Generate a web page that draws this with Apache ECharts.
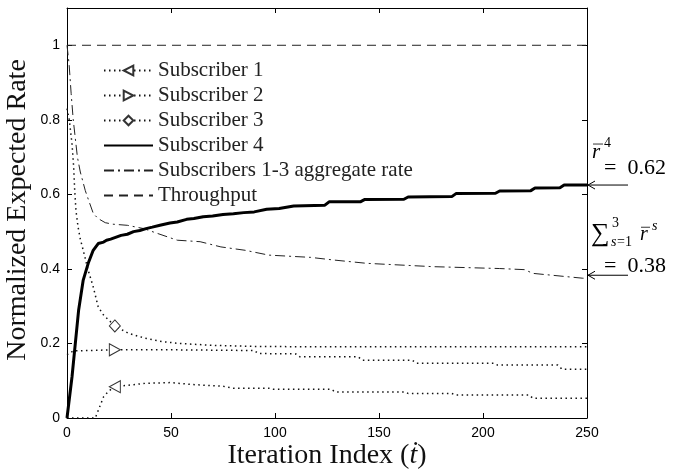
<!DOCTYPE html>
<html>
<head>
<meta charset="utf-8">
<script src="https://cdn.jsdelivr.net/npm/echarts@6/dist/echarts.min.js"></script>
<style>html,body{margin:0;padding:0;background:#fff}#c{width:674px;height:472px}</style>
</head>
<body>
<div id="c"></div>
<script>
// ---- data ----
const xTicks = [0, 50, 100, 150, 200, 250];
const yTicks = [0, 0.2, 0.4, 0.6, 0.8, 1];
const seriesNames = ['Subscriber 1', 'Subscriber 2', 'Subscriber 3', 'Subscriber 4',
  'Subscribers 1-3 aggregate rate', 'Throughput'];
const markerT = 23;
const sub1 = [[0,0],[13.6,0],[15,0.02],[17.6,0.057],[20,0.072],[23,0.084],[29.6,0.088],[37.6,0.093],[50,0.095],[60,0.09],[75,0.085],[80,0.08],[97,0.08],[99,0.077],[127,0.077],[129,0.07],[162,0.07],[164,0.066],[185,0.066],[187,0.062],[222,0.062],[224,0.053],[250,0.053]];
const sub2 = [[0,0.17],[3,0.18],[23,0.183],[50,0.183],[90,0.181],[92,0.173],[110,0.172],[112,0.164],[140,0.164],[142,0.155],[166,0.155],[168,0.147],[205,0.147],[207,0.142],[236,0.142],[238,0.131],[250,0.131]];
const sub3 = [[0,0.83],[1.1,0.80],[2.4,0.736],[3.2,0.674],[3.7,0.611],[4.3,0.557],[5.3,0.513],[6.4,0.48],[7.8,0.45],[10,0.40],[12.6,0.352],[15,0.298],[17.6,0.276],[23,0.247],[29.6,0.227],[37.6,0.214],[45.7,0.205],[54,0.2],[70,0.195],[90,0.192],[120,0.191],[250,0.191]];
const sub4 = [[0,0],[2.4,0.11],[4,0.2],[5.6,0.29],[7.8,0.37],[10.2,0.415],[12.6,0.45],[15,0.468],[17.6,0.472],[19,0.477],[21,0.48],[24,0.486],[26,0.49],[29,0.493],[32,0.5],[35,0.503],[38,0.508],[41,0.512],[44.7,0.517],[49.5,0.523],[53,0.526],[57.5,0.533],[61,0.535],[65.5,0.54],[70,0.542],[75,0.546],[80,0.548],[85,0.551],[90,0.553],[96,0.56],[102,0.562],[109,0.569],[124,0.571],[126,0.58],[141,0.58],[143,0.586],[162,0.587],[164,0.593],[185,0.594],[187,0.602],[206,0.603],[208,0.609],[223,0.61],[225,0.617],[237,0.618],[239,0.625],[250,0.625]];
const aggregate = [[0,1],[1,0.95],[2,0.87],[3,0.80],[4,0.75],[5,0.70],[6.4,0.66],[8.8,0.61],[10.4,0.584],[12.7,0.548],[15,0.535],[18.4,0.524],[22,0.52],[29,0.517],[37,0.508],[43.6,0.495],[53,0.477],[64,0.473],[74,0.459],[85.6,0.45],[97,0.437],[117,0.431],[128,0.424],[144,0.415],[176,0.406],[208,0.401],[220,0.398],[224,0.388],[248,0.375],[250,0.375]];
const throughput = [[0,1],[250,1]];
const finalSub4 = 0.625, finalAgg = 0.383;
const labelSub4 = '=  0.62', labelAgg = '=  0.38';

const serif = "'Liberation Serif','DejaVu Serif',serif";
const sans = "'Liberation Sans',Arial,sans-serif";

function withMarker(arr) {
  return arr.map(p => p[0] === markerT ? {value: p} : {value: p, symbol: 'none'});
}
const hollow = {color: '#fff', borderColor: '#333', borderWidth: 1};
const dotted = {color: '#111', width: 1.5, type: [1.5, 3.5]};
const noSym = {opacity: 0};

const chart = echarts.init(document.getElementById('c'), null, {renderer: 'canvas'});
const axisLine = {show: true, onZero: false, lineStyle: {color: '#000', width: 1}};
const axisTick = {show: true, inside: true, length: 5, lineStyle: {color: '#000'}};
const option = {
  animation: false,
  backgroundColor: '#fff',
  grid: {left: 67, right: 87, top: 8, bottom: 54},
  legend: {
    orient: 'vertical', left: 103, top: 60, padding: 0, itemWidth: 49, itemHeight: 12, itemGap: 4,
    textStyle: {fontFamily: serif, fontSize: 21, color: '#222'},
    selectedMode: false,
    data: [
      {name: seriesNames[0]}, {name: seriesNames[1]}, {name: seriesNames[2]},
      {name: seriesNames[3], itemStyle: noSym},
      {name: seriesNames[4], itemStyle: noSym},
      {name: seriesNames[5], itemStyle: noSym}
    ]
  },
  xAxis: [
    {type: 'value', min: 0, max: 250, interval: 50, position: 'bottom', axisLine: axisLine, axisTick: axisTick,
     axisLabel: {fontFamily: sans, fontSize: 14, color: '#000', margin: 8,
       formatter: v => xTicks.includes(v) ? String(v) : ''},
     splitLine: {show: false}},
    {type: 'value', min: 0, max: 250, interval: 50, position: 'top', axisLine: axisLine, axisTick: axisTick,
     axisLabel: {show: false}, splitLine: {show: false}}
  ],
  yAxis: [
    {type: 'value', min: 0, max: 1.1, interval: 0.2, position: 'left', axisLine: axisLine, axisTick: axisTick,
     axisLabel: {fontFamily: sans, fontSize: 14, color: '#000', margin: 7,
       formatter: v => yTicks.some(t => Math.abs(t - v) < 1e-6) ? String(+v.toFixed(1)) : ''},
     splitLine: {show: false}},
    {type: 'value', min: 0, max: 1.1, interval: 0.2, position: 'right', axisLine: axisLine, axisTick: axisTick,
     axisLabel: {show: false}, splitLine: {show: false}}
  ],
  series: [
    {name: seriesNames[0], type: 'line', data: withMarker(sub1), symbol: 'path://M10,0L0,5L10,10Z', symbolSize: [11, 12],
     itemStyle: hollow, lineStyle: dotted, z: 3},
    {name: seriesNames[1], type: 'line', data: withMarker(sub2), symbol: 'path://M0,0L10,5L0,10Z', symbolSize: [11, 12],
     itemStyle: hollow, lineStyle: dotted, z: 3},
    {name: seriesNames[2], type: 'line', data: withMarker(sub3), symbol: 'diamond', symbolSize: [11, 12],
     itemStyle: hollow, lineStyle: dotted, z: 3},
    {name: seriesNames[3], type: 'line', data: sub4, symbol: 'none', showSymbol: false,
     itemStyle: {color: '#000'}, lineStyle: {color: '#000', width: 3}, z: 4},
    {name: seriesNames[4], type: 'line', data: aggregate, symbol: 'none', showSymbol: false,
     itemStyle: {color: '#000'}, lineStyle: {color: '#222', width: 1, type: [10, 4, 2, 4]}, z: 3},
    {name: seriesNames[5], type: 'line', data: throughput, symbol: 'none', showSymbol: false,
     itemStyle: {color: '#000'}, lineStyle: {color: '#222', width: 1, type: [9, 6]}, z: 3}
  ]
};
chart.setOption(option);

// annotations on the right, placed from the data through the axes
const p1 = chart.convertToPixel({gridIndex: 0}, [250, finalSub4]);
const p2 = chart.convertToPixel({gridIndex: 0}, [250, finalAgg]);
const x0 = p1[0];
function arrow(y) {
  return [
    {type: 'line', shape: {x1: x0 + 1, y1: y, x2: x0 + 41, y2: y}, style: {stroke: '#000', lineWidth: 1}},
    {type: 'polyline', shape: {points: [[x0 + 8, y - 4], [x0 + 1, y], [x0 + 8, y + 4]]}, style: {stroke: '#000', lineWidth: 1, fill: null}}
  ];
}
function txt(x, y, s, size, italic, align) {
  return {type: 'text', x: x, y: y, style: {text: s, fontFamily: serif, fontSize: size, fontStyle: italic ? 'italic' : 'normal',
    fill: '#000', align: align || 'left', verticalAlign: 'middle'}};
}
function bar(x, y, w) {
  return {type: 'line', shape: {x1: x, y1: y, x2: x + w, y2: y}, style: {stroke: '#000', lineWidth: 0.8}};
}
const y1 = p1[1], y2 = p2[1];
const graphics = [
  ...arrow(y1), ...arrow(y2),
  txt(x0 + 5, y1 - 33, 'r', 21, true), bar(x0 + 6, y1 - 41, 10), txt(x0 + 17, y1 - 42, '4', 14, false),
  txt(x0 + 17, y1 - 17, labelSub4, 22, false),
  txt(x0 + 4, y2 - 41, '\u2211', 26, false), txt(x0 + 25, y2 - 52, '3', 14, false),
  txt(x0 + 24, y2 - 33, 's', 14, true), txt(x0 + 30, y2 - 33, '=1', 14, false),
  txt(x0 + 53, y2 - 40, 'r', 20, true), bar(x0 + 54, y2 - 48, 9), txt(x0 + 65, y2 - 49, 's', 14, true),
  txt(x0 + 17, y2 - 9, labelAgg, 22, false),
  // axis titles
  {type: 'text', x: 18, y: 210, rotation: Math.PI / 2,
   style: {text: 'Normalized Expected Rate', fontFamily: serif, fontSize: 28, fill: '#111', align: 'center', verticalAlign: 'middle'}},
  {type: 'text', x: 327, y: 456,
   style: {text: '{a|Iteration Index (}{b|\u1E6B}{a|)}', align: 'center', verticalAlign: 'middle',
     rich: {a: {fontFamily: serif, fontSize: 28, fill: '#111'}, b: {fontFamily: serif, fontSize: 28, fontStyle: 'italic', fill: '#111'}}}}
];
chart.setOption({graphic: graphics});
</script>
</body>
</html>
